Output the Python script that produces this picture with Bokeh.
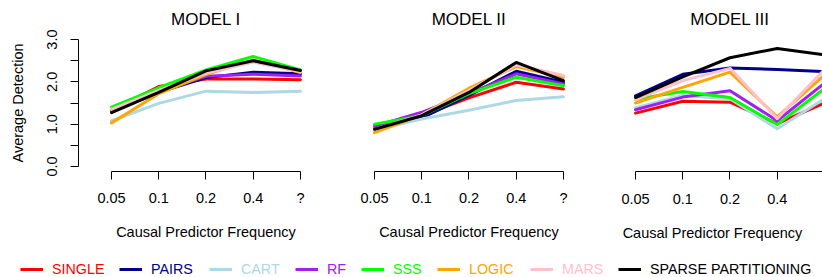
from bokeh.plotting import figure
from bokeh.layouts import row, column
from bokeh.models import (Range1d, FixedTicker, NumeralTickFormatter, Legend,
                          LegendItem)
from bokeh.embed import file_html
from bokeh.resources import INLINE

FONT = "Liberation Sans"

# ---------------- data ----------------
freq_labels = ["0.05", "0.1", "0.2", "0.4", "?"]
x_pos = [1, 2, 3, 4, 5]
y_major = [0.0, 1.0, 2.0, 3.0]
y_minor = [0.5, 1.5, 2.5]
titles = ["MODEL I", "MODEL II", "MODEL III"]
methods = ["SINGLE", "PAIRS", "CART", "RF", "SSS", "LOGIC", "MARS",
           "SPARSE PARTITIONING"]
colors = ["#FF0000", "#00008B", "#ADD8E6", "#A020F0", "#00FF00", "#FFA500",
          "#FFC0CB", "#000000"]

# Model I
m1_single = [1.33, 1.89, 2.07, 2.07, 2.05]
m1_pairs = [1.30, 1.75, 2.10, 2.23, 2.19]
m1_cart = [1.08, 1.49, 1.78, 1.75, 1.78]
m1_rf = [1.30, 1.78, 2.13, 2.18, 2.14]
m1_sss = [1.40, 1.86, 2.28, 2.60, 2.28]
m1_logic = [1.03, 1.72, 2.17, 2.52, 2.22]
m1_mars = [1.35, 1.80, 2.20, 2.47, 2.24]
m1_sparse = [1.27, 1.75, 2.26, 2.50, 2.27]
# Model II
m2_single = [0.90, 1.20, 1.62, 1.99, 1.83]
m2_pairs = [0.86, 1.15, 1.68, 2.25, 1.99]
m2_cart = [0.86, 1.12, 1.33, 1.56, 1.65]
m2_rf = [0.95, 1.28, 1.72, 2.19, 1.95]
m2_sss = [1.00, 1.20, 1.72, 2.11, 1.91]
m2_logic = [0.80, 1.22, 1.85, 2.36, 2.11]
m2_mars = [0.88, 1.22, 1.80, 2.40, 2.15]
m2_sparse = [0.88, 1.20, 1.75, 2.46, 2.03]
# Model III
m3_single = [1.26, 1.54, 1.52, 1.01, 1.50]
m3_pairs = [1.67, 2.18, 2.33, 2.29, 2.24]
m3_cart = [1.39, 1.68, 1.60, 0.89, 1.60]
m3_rf = [1.34, 1.64, 1.79, 1.08, 1.97]
m3_sss = [1.59, 1.77, 1.63, 0.99, 1.84]
m3_logic = [1.50, 1.87, 2.23, 1.17, 2.16]
m3_mars = [1.58, 2.03, 2.32, 1.13, 2.29]
m3_sparse = [1.63, 2.12, 2.57, 2.79, 2.64]

models = [
    [m1_single, m1_pairs, m1_cart, m1_rf, m1_sss, m1_logic, m1_mars, m1_sparse],
    [m2_single, m2_pairs, m2_cart, m2_rf, m2_sss, m2_logic, m2_mars, m2_sparse],
    [m3_single, m3_pairs, m3_cart, m3_rf, m3_sss, m3_logic, m3_mars, m3_sparse],
]

# ---------------- layout constants ----------------
X0 = 0.3
PX_PER_UNIT = 47.22
FRAME_W = 255
panel_w = [337, 262, 223]
border_l = [78, 4, 3]
border_r = [4, 3, 0]
tick_standoff = [10, 10, 14]
title_standoff = [15, 15, 18]
PANEL_H = 257
BORDER_T = 34
BORDER_B = 86
LABEL_SIZE = "14.5px"


def make_panel(k):
    fw = panel_w[k] - border_l[k] - border_r[k]
    x_end = X0 + fw / PX_PER_UNIT
    p = figure(width=panel_w[k], height=PANEL_H,
               x_range=Range1d(X0, x_end), y_range=Range1d(-0.12, 3.12),
               output_backend="svg", toolbar_location=None,
               min_border_left=border_l[k], min_border_right=border_r[k],
               min_border_top=BORDER_T, min_border_bottom=BORDER_B)
    p.outline_line_color = None
    p.grid.grid_line_color = None
    p.background_fill_color = "white"

    p.title.text = titles[k]
    p.title.text_font = FONT
    p.title.text_font_size = "17px"
    p.title.text_font_style = "normal"
    p.title.text_color = "black"
    p.title.vertical_align = "top"
    p.title.standoff = 8
    if fw < FRAME_W:
        # frame is cut by the page edge: keep the title over the middle tick
        tw = 17 * 4.668
        p.title.align = "left"
        p.title.offset = (x_pos[2] - X0) * PX_PER_UNIT - tw / 2
    else:
        p.title.align = "center"

    for vals, col in zip(models[k], colors):
        p.line(x_pos, vals, line_color=col, line_width=3,
               line_join="round", line_cap="round")

    xa = p.xaxis[0]
    xa.ticker = FixedTicker(ticks=x_pos)
    xa.major_label_overrides = {x: lab for x, lab in zip(x_pos, freq_labels)}
    xa.bounds = (min(x_pos), max(x_pos))
    xa.axis_label = "Causal Predictor Frequency"
    xa.axis_label_text_font = FONT
    xa.axis_label_text_font_size = LABEL_SIZE
    xa.axis_label_text_font_style = "normal"
    xa.axis_label_text_color = "black"
    xa.axis_label_standoff = title_standoff[k]
    xa.major_label_text_font = FONT
    xa.major_label_text_font_size = LABEL_SIZE
    xa.major_label_text_color = "black"
    xa.major_label_standoff = tick_standoff[k]
    xa.major_tick_out = 8
    xa.major_tick_in = 0
    xa.minor_tick_out = 0
    xa.minor_tick_in = 0
    xa.axis_line_color = "black"
    xa.major_tick_line_color = "black"

    ya = p.yaxis[0]
    if k == 0:
        ya.ticker = FixedTicker(ticks=y_major, minor_ticks=y_minor)
        ya.formatter = NumeralTickFormatter(format="0.0")
        ya.bounds = (min(y_major), max(y_major))
        ya.major_label_orientation = "vertical"
        ya.axis_label = "Average Detection"
        ya.axis_label_text_font = FONT
        ya.axis_label_text_font_size = LABEL_SIZE
        ya.axis_label_text_font_style = "normal"
        ya.axis_label_text_color = "black"
        ya.axis_label_standoff = 19
        ya.major_label_text_font = FONT
        ya.major_label_text_font_size = LABEL_SIZE
        ya.major_label_text_color = "black"
        ya.major_label_standoff = 13
        ya.major_tick_out = 8
        ya.major_tick_in = 0
        ya.minor_tick_out = 8
        ya.minor_tick_in = 0
        ya.minor_tick_line_color = "black"
        ya.axis_line_color = "black"
    else:
        ya.visible = False
    return p


panels = [make_panel(k) for k in range(3)]

# ---------------- legend strip ----------------
# the key lines reuse Model I data but the strip's ranges keep them out of view,
# so only the legend glyphs are seen
leg_x = [20, 119, 209, 295, 361, 437, 530, 618]
pl = figure(width=822, height=20, x_range=Range1d(-10, -9),
            y_range=Range1d(-10, -9), output_backend="svg",
            toolbar_location=None, min_border=0)
pl.axis.visible = False
pl.grid.grid_line_color = None
pl.outline_line_color = None
for name, col, lx, vals in zip(methods, colors, leg_x, models[0]):
    r = pl.line(x_pos, vals, line_color=col, line_width=3)
    leg = Legend(items=[LegendItem(label=name, renderers=[r])],
                 location=(lx, 0), orientation="horizontal",
                 padding=0, margin=0, spacing=0,
                 glyph_width=23, glyph_height=16, label_height=16,
                 label_standoff=9, label_text_font=FONT,
                 label_text_font_size="14.3px", label_text_color=col,
                 border_line_color=None, background_fill_alpha=0)
    pl.add_layout(leg)

layout = column(row(*panels), pl)
open("out.html", "w").write(file_html(layout, INLINE))
